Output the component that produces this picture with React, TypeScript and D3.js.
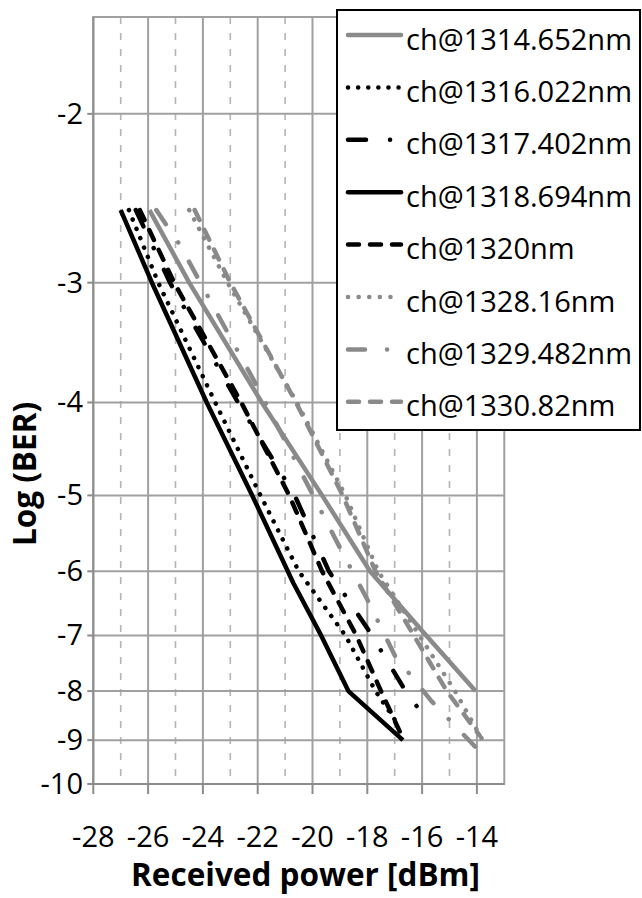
import React from 'react';
import * as d3 from 'd3';

// Axis ticks
const xTicks = [-28, -26, -24, -22, -20, -18, -16, -14];
const xMinor = [-27, -25, -23, -21, -19, -17, -15];
const yTicks = [-2, -3, -4, -5, -6, -7, -8, -9, -10];

// Channel names
const channels = [
  'ch@1314.652nm',
  'ch@1316.022nm',
  'ch@1317.402nm',
  'ch@1318.694nm',
  'ch@1320nm',
  'ch@1328.16nm',
  'ch@1329.482nm',
  'ch@1330.82nm',
];

// Received power [dBm] and log(BER) per channel
const power1314 = [-25.95, -24.5, -21.85, -19.65, -17.9, -15.85, -14.05];
const ber1314 = [-2.52, -3.0, -4.0, -5.0, -6.0, -7.0, -8.0];

const power1316 = [-26.7, -25.63, -23.55, -21.9, -20.5, -18.8, -17.7, -16.9];
const ber1316 = [-2.52, -3.0, -4.0, -5.0, -6.0, -7.0, -8.0, -8.65];

const power1317 = [-26.45, -25.2, -22.72, -20.65, -19.4, -17.97, -16.6, -15.8];
const ber1317 = [-2.52, -3.0, -4.0, -5.0, -6.0, -6.9, -8.0, -8.6];

const power1318 = [-27.0, -25.86, -23.86, -22.2, -20.7, -19.73, -18.69, -16.7];
const ber1318 = [-2.52, -3.0, -4.0, -5.0, -6.17, -6.96, -8.0, -9.0];

const power1320 = [-26.3, -25.05, -22.6, -20.85, -19.65, -18.4, -17.5, -16.75];
const ber1320 = [-2.52, -3.0, -4.0, -5.0, -6.0, -7.0, -8.0, -8.9];

const power1328 = [-24.5, -23.1, -20.57, -18.8, -17.6, -16.1, -14.8, -13.65];
const ber1328 = [-2.52, -3.0, -4.0, -5.0, -6.0, -7.0, -8.0, -9.15];

const power1329 = [-25.7, -24.84, -23.74, -22.04, -18.93, -18.0, -16.99, -15.65, -14.07];
const ber1329 = [-2.52, -2.74, -3.13, -3.84, -5.72, -6.42, -7.35, -8.2, -9.14];

const power1330 = [-24.3, -23.0, -20.6, -18.9, -17.7, -16.3, -15.1, -13.9];
const ber1330 = [-2.52, -3.0, -4.0, -5.0, -6.0, -7.0, -8.0, -8.9];

const powers = [power1314, power1316, power1317, power1318, power1320, power1328, power1329, power1330];
const bers = [ber1314, ber1316, ber1317, ber1318, ber1320, ber1328, ber1329, ber1330];

const BLACK = '#000000';
const GRAY = '#8a8a8a';

// Line styles in channel order
const styles = [
  { color: GRAY, dash: null as string | null },
  { color: BLACK, dash: '0.1 10' },
  { color: BLACK, dash: '18 24 0.1 24' },
  { color: BLACK, dash: null },
  { color: BLACK, dash: '11 11' },
  { color: GRAY, dash: '0.1 10.5' },
  { color: GRAY, dash: '17 22 0.1 22' },
  { color: GRAY, dash: '11 11' },
];

const FONT = '"Open Sans", sans-serif';

export default function App() {
  const W = 642;
  const H = 898;
  const left = 93.3;
  const right = 504.3;
  const top = 17;
  const bottom = 784;

  const x = d3.scaleLinear().domain([-28, -13]).range([left, right]);
  // log scale over -log(BER): 10^0.2 .. 10
  const yLog = d3.scaleLog().domain([Math.pow(10, 0.2), 10]).range([top, bottom]);
  const y = (v: number) => yLog(-v);

  const line = d3
    .line<[number, number]>()
    .x((d) => x(d[0]))
    .y((d) => y(d[1]));

  const gridColor = '#a0a0a0';
  const axisColor = '#8c8c8c';

  const legendX = 337;
  const legendY = 10;
  const rowH = 52.4;

  return (
    <svg
      width={W}
      height={H}
      viewBox={`0 0 ${W} ${H}`}
      style={{ position: 'absolute', left: 0, top: 0, background: '#fff' }}
    >
      <rect x={0} y={0} width={W} height={H} fill="#fff" />

      {/* minor vertical gridlines */}
      {xMinor.map((t) => (
        <line
          key={'mn' + t}
          x1={x(t)}
          x2={x(t)}
          y1={top}
          y2={bottom}
          stroke="#b4b4b4"
          strokeWidth={1.6}
          strokeDasharray="7 9"
        />
      ))}
      {/* major vertical gridlines */}
      {xTicks.slice(1).map((t) => (
        <line key={'mv' + t} x1={x(t)} x2={x(t)} y1={top} y2={bottom} stroke={gridColor} strokeWidth={2} />
      ))}
      {/* horizontal gridlines */}
      {yTicks.slice(0, -1).map((t) => (
        <line key={'mh' + t} x1={left} x2={right} y1={y(t)} y2={y(t)} stroke={gridColor} strokeWidth={2} />
      ))}
      {/* plot border */}
      <rect x={left} y={top} width={right - left} height={bottom - top} fill="none" stroke={gridColor} strokeWidth={2} />

      {/* axes */}
      <line x1={left} x2={left} y1={top} y2={bottom} stroke={axisColor} strokeWidth={2} />
      <line x1={left} x2={right} y1={bottom} y2={bottom} stroke={axisColor} strokeWidth={2} />
      {xTicks.map((t) => (
        <line key={'xt' + t} x1={x(t)} x2={x(t)} y1={bottom} y2={bottom + 10} stroke={axisColor} strokeWidth={2} />
      ))}
      {yTicks.map((t) => (
        <line key={'yt' + t} x1={left - 6} x2={left} y1={y(t)} y2={y(t)} stroke={axisColor} strokeWidth={2} />
      ))}

      {/* tick labels */}
      {xTicks.map((t) => (
        <text key={'xl' + t} x={x(t)} y={847} textAnchor="middle" fontFamily={FONT} fontSize={29} fill="#000">
          {t}
        </text>
      ))}
      {yTicks.map((t) => (
        <text key={'yl' + t} x={83} y={y(t) + 10} textAnchor="end" fontFamily={FONT} fontSize={29} fill="#000">
          {t}
        </text>
      ))}

      {/* axis titles */}
      <text x={305.5} y={886} textAnchor="middle" fontFamily={FONT} fontSize={31.5} fontWeight="bold" fill="#000">
        Received power [dBm]
      </text>
      <text
        transform={`translate(36, 474) rotate(-90)`}
        textAnchor="middle"
        fontFamily={FONT}
        fontSize={31.5}
        fontWeight="bold"
        fill="#000"
      >
        Log (BER)
      </text>

      {/* series */}
      {powers.map((p, i) => {
        const pts = p.map((v, k) => [v, bers[i][k]] as [number, number]);
        const s = styles[i];
        return (
          <path
            key={'s' + i}
            d={line(pts) || ''}
            fill="none"
            stroke={s.color}
            strokeWidth={4.5}
            strokeDasharray={s.dash || undefined}
            strokeLinecap={s.dash ? 'round' : 'butt'}
            strokeLinejoin="round"
          />
        );
      })}

      {/* legend */}
      <rect x={legendX} y={legendY} width={303} height={420} fill="#fff" stroke="#000" strokeWidth={2} />
      {channels.map((c, i) => {
        const s = styles[i];
        const ly = 35 + i * rowH;
        return (
          <g key={'lg' + i}>
            <line
              x1={348}
              x2={401}
              y1={ly}
              y2={ly}
              stroke={s.color}
              strokeWidth={4.5}
              strokeDasharray={s.dash || undefined}
              strokeLinecap="round"
            />
            <text x={406} y={49.5 + i * rowH} fontFamily={FONT} fontSize={29} fill="#000">
              {c}
            </text>
          </g>
        );
      })}
    </svg>
  );
}
